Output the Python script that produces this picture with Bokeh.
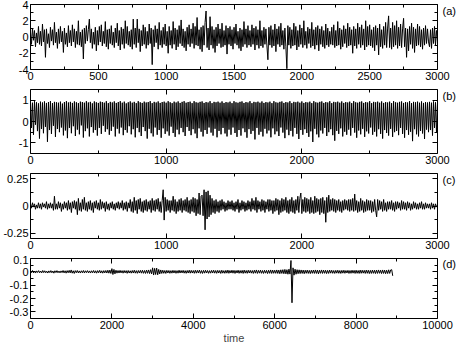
import numpy as np
from bokeh.plotting import figure
from bokeh.layouts import column
from bokeh.models import FixedTicker, LinearAxis, CustomJSTickFormatter, Range1d
from bokeh.embed import file_html
from bokeh.resources import INLINE

# ---- data ----
step_abc = 3000 / 408   # time step of samples in panels a-c
step_d = 25             # time step of samples in panel d

series_a = [
    0.6, -0.9, 1.1, -0.4, 0.8, -1.2, 0.5, -0.7, 1.3, -0.9, 0.7, -1.1, 1.6, -0.6, 0.9, -2.5, 1.0, -0.8, 0.4, -1.3,
    1.2, -0.5, 0.9, -1.0, 1.8, -0.7, 0.6, -1.4, 1.0, -0.8, 1.3, -0.6, 0.7, -1.9, 1.1, -0.9, 0.5, -1.2, 1.4, -0.7,
    0.8, -1.1, 1.5, -0.6, 1.0, -1.3, 0.7, -0.9, 2.0, -1.0, 0.6, -1.2, 0.9, -2.7, 1.1, -0.8, 1.4, -0.5, 0.9, 2.2,
    -0.7, 1.0, -1.4, 0.6, -0.9, 1.2, -1.7, 0.8, -1.0, 1.3, -0.6, 1.5, -1.1, 0.7, -0.8, 1.9, -1.2, 0.9, -1.5, 1.0,
    -0.8, 1.4, -1.0, 0.6, -1.3, 1.1, -0.7, 1.7, -1.1, 0.8, -1.6, 1.2, -0.9, 1.0, -1.4, 2.0, -0.8, 1.3, -1.0, 0.7,
    -1.2, 0.9, -1.5, 2.2, -0.9, 1.1, -1.3, 2.2, -0.7, 1.0, -1.8, 0.8, -1.1, 1.5, -0.9, 1.2, -1.4, 0.7, -1.0, 1.6,
    -0.8, 1.1, -3.4, 0.9, -1.2, 1.4, -0.7, 1.0, -1.5, 1.8, -1.0, 0.8, -1.3, 1.2, -0.9, 1.6, -1.1, 0.7, -2.0, 1.3,
    -1.0, 0.8, -1.4, 1.9, -0.9, 1.1, -1.6, 0.9, -1.2, 1.4, -0.8, 2.1, -1.1, 1.0, -1.3, 0.7, -1.7, 1.2, -0.9, 1.5,
    -1.2, 1.0, -0.8, 1.7, -1.4, 1.3, -1.0, 2.4, -1.1, 0.9, -1.5, 1.2, -1.8, 1.4, -1.0, 1.8, 3.2, -1.3, 1.1, -1.6,
    2.5, -1.0, 1.3, -1.4, 0.9, -1.9, 1.2, -1.1, 1.6, -0.8, 1.0, -1.3, 1.7, -1.2, 0.8, -1.0, 1.4, -2.1, 1.1, -0.9,
    1.3, -1.1, 0.9, -1.5, 1.2, -0.8, 1.6, -1.0, 0.7, -1.4, 1.1, -1.7, 0.9, -1.2, 1.9, -0.9, 1.0, -1.3, 1.4, -1.0,
    0.8, -1.2, 1.5, -0.9, 1.1, -1.6, 1.3, -1.0, 0.9, -1.4, 2.0, -1.1, 0.8, -1.3, 1.2, -0.9, 1.0, -1.1, -2.8, 1.2,
    -1.0, 1.4, -1.3, 0.9, -1.1, 1.6, -1.8, 1.0, -0.9, 1.3, -1.2, 1.7, -1.0, 0.8, -1.5, 1.1, -1.2, -3.9, 1.4, -1.0,
    1.2, -1.4, 0.9, -1.1, 1.7, -1.0, 1.3, -1.6, 0.8, -1.2, 1.5, -0.9, 1.1, -1.3, 2.0, -1.0, 0.7, -1.4, 1.2, -0.8,
    1.0, -1.3, 1.8, -1.1, 0.9, -1.5, 1.2, -1.0, 1.4, -1.7, 1.0, -0.9, 1.3, -1.2, 0.8, -1.4, 1.6, -1.0, 1.1, -1.2,
    0.7, -0.9, 1.2, -1.0, 1.5, -1.3, 0.8, -1.1, 1.9, -1.0, 1.1, -1.5, 0.9, -1.2, 1.4, -0.8, 1.0, -1.3, 1.7, -1.1,
    1.2, -1.0, 0.9, -2.0, 1.3, -1.1, 1.0, -1.4, 1.7, -0.9, 1.2, -1.3, 1.5, -1.0, 1.0, -1.6, 2.0, -1.2, 1.3, -1.0,
    1.5, -1.1, 0.9, -1.3, 1.2, -1.7, 1.4, -1.0, 1.1, -2.2, 1.6, -1.2, 0.9, -1.4, 1.3, -1.0, 1.8, -1.3, 1.1, 2.6,
    -1.3, 1.1, -1.5, 1.8, -1.2, 1.4, -1.0, 2.0, -1.4, 1.2, -1.1, 1.6, -1.3, 1.0, 2.3, -1.2, 1.1, -2.5, 1.0, -1.7,
    1.3, -0.9, 1.7, -1.4, 1.2, -1.9, 1.0, -1.1, 1.6, -1.0, 1.3, -1.2, 0.9, -1.5, 1.1, -1.0, 1.4, -0.8, 1.0, -0.6,
    -1.2, 0.9, -1.4, 1.1, -0.8, 1.3, -1.0, 0.8, -0.5,
]

series_b = [
    0.92, -0.30, 0.88, -0.62, 0.95, -0.15, 0.90, -0.45, 0.85, -0.80, 0.93, -0.35, 0.89, -0.55, 0.94, -0.25, 0.87, -0.95, 0.91, -0.40,
    0.95, -0.58, 0.86, -0.20, 0.92, -0.72, 0.90, -0.35, 0.88, -0.50, 0.93, -0.28, 0.84, -0.65, 0.91, -0.42, 0.95, -0.78, 0.89, -0.30,
    0.92, -0.55, 0.87, -0.22, 0.94, -0.68, 0.90, -0.38, 0.86, -0.60, 0.93, -0.18, 0.91, -0.75, 0.88, -0.45, 0.95, -0.32, 0.89, -0.70,
    0.92, -0.26, 0.85, -0.52, 0.94, -0.40, 0.90, -0.66, 0.87, -0.30, 0.93, -0.58, 0.91, -0.20, 0.88, -0.48, 0.95, -0.36, 0.86, -0.62,
    0.92, -0.44, 0.89, -0.24, 0.94, -0.70, 0.87, -0.34, 0.91, -0.56, 0.95, -0.28, 0.88, -0.64, 0.93, -0.40, 0.85, -0.52, 0.90, -0.22,
    0.94, -0.60, 0.88, -0.36, 0.92, -0.74, 0.86, -0.30, 0.95, -0.50, 0.90, -0.68, 0.87, -0.26, 0.93, -0.45, 0.89, -0.80, 0.91, -0.34,
    0.95, -0.55, 0.86, -0.70, 0.92, -0.28, 0.89, -0.62, 0.94, -0.40, 0.87, -0.76, 0.91, -0.32, 0.93, -0.58, 0.88, -0.46, 0.95, -0.66,
    0.90, -0.24, 0.86, -0.54, 0.93, -0.72, 0.89, -0.38, 0.94, -0.60, 0.87, -0.30, 0.92, -0.50, 0.95, -0.68, 0.88, -0.26, 0.91, -0.44,
    0.93, -0.64, 0.86, -0.36, 0.95, -0.56, 0.90, -0.78, 0.88, -0.32, 0.92, -0.48, 0.94, -0.70, 0.87, -0.40, 0.91, -0.58, 0.89, -0.28,
    0.95, -0.52, 0.86, -0.66, 0.92, -0.34, 0.90, -0.74, 0.93, -0.44, 0.88, -0.60, 0.94, -0.30, 0.87, -0.56, 0.91, -0.70, 0.89, -0.38,
    0.93, -0.62, 0.86, -0.28, 0.95, -0.54, 0.90, -0.72, 0.88, -0.40, 0.92, -0.66, 0.94, -0.32, 0.87, -0.50, 0.91, -0.76, 0.89, -0.36,
    0.95, -0.58, 0.86, -0.44, 0.92, -0.84, 0.90, -0.30, 0.93, -0.62, 0.88, -0.48, 0.94, -0.70, 0.87, -0.34, 0.91, -0.56, 0.89, -0.42,
    0.93, -0.74, 0.86, -0.32, 0.95, -0.60, 0.90, -0.46, 0.88, -0.68, 0.92, -0.28, 0.94, -0.52, 0.87, -0.78, 0.91, -0.38, 0.89, -0.64,
    0.95, -0.44, 0.86, -0.70, 0.92, -0.30, 0.90, -0.58, 0.93, -0.82, 0.88, -0.40, 0.94, -0.62, 0.87, -0.36, 0.91, -0.54, 0.89, -0.72,
    0.93, -0.46, 0.86, -0.96, 0.95, -0.34, 0.90, -0.60, 0.88, -0.74, 0.92, -0.42, 0.94, -0.56, 0.87, -0.30, 0.91, -0.68, 0.89, -0.50,
    0.95, -0.36, 0.86, -0.64, 0.92, -0.90, 0.90, -0.44, 0.93, -0.58, 0.88, -0.32, 0.94, -0.70, 0.87, -0.48, 0.91, -0.62, 0.89, -0.38,
    0.93, -0.66, 0.86, -0.30, 0.95, -0.52, 0.90, -0.76, 0.88, -0.42, 0.92, -0.60, 0.94, -0.34, 0.87, -0.72, 0.91, -0.46, 0.89, -0.56,
    0.95, -0.28, 0.86, -0.62, 0.92, -0.48, 0.90, -0.70, 0.93, -0.36, 0.88, -0.58, 0.94, -0.80, 0.87, -0.40, 0.91, -0.54, 0.89, -0.66,
    0.93, -0.34, 0.86, -0.72, 0.95, -0.50, 0.90, -0.44, 0.88, -0.64, 0.92, -0.30, 0.94, -0.58, 0.87, -0.76, 0.91, -0.40, 0.89, -0.62,
    0.95, -0.48, 0.86, -0.92, 0.92, -0.36, 0.90, -0.60, 0.93, -0.70, 0.88, -0.44, 0.94, -0.56, 0.87, -0.82, 0.91, -0.38, 0.89, -0.50,
    0.92, -0.40, 0.88, -0.66, 0.94, -0.30, 0.90, -0.54, 0.86,
]

series_c = [
    0.02, -0.02, 0.03, -0.01, 0.02, -0.03, 0.01, -0.02, 0.03, -0.02, 0.02, -0.03, 0.03, -0.01, 0.02, -0.02, 0.04, -0.03, 0.02, -0.02,
    0.03, -0.02, 0.02, -0.04, 0.09, -0.03, 0.02, -0.03, 0.04, -0.02, 0.03, -0.05, 0.02, -0.03, 0.04, -0.02, 0.03, -0.04, 0.05, -0.03,
    0.03, -0.06, 0.04, -0.02, 0.05, -0.03, 0.04, -0.08, 0.07, -0.04, 0.03, -0.05, 0.06, -0.03, 0.08, -0.04, 0.03, -0.05, 0.04, -0.03,
    0.05, -0.04, 0.03, -0.06, 0.04, -0.02, 0.05, -0.03, 0.03, -0.04, 0.06, -0.03, 0.04, -0.02, 0.03, -0.05, 0.04, -0.03, 0.02, -0.04,
    0.03, -0.02, 0.04, -0.03, 0.02, -0.04, 0.03, -0.02, 0.04, -0.03, 0.03, -0.02, 0.05, -0.04, 0.03, -0.03, 0.04, -0.05, 0.03, -0.02,
    0.06, -0.05, 0.04, -0.06, 0.08, -0.04, 0.05, -0.07, 0.06, -0.03, 0.07, -0.05, 0.04, -0.06, 0.05, -0.04, 0.06, -0.05, 0.04, -0.03,
    0.05, -0.06, 0.07, -0.04, 0.05, -0.05, 0.06, -0.03, 0.07, -0.05, 0.04, -0.06, 0.05, 0.15, -0.13, 0.08, -0.05, 0.06, -0.04, 0.05,
    -0.06, 0.05, -0.04, 0.09, -0.05, 0.06, -0.07, 0.04, -0.05, 0.06, -0.04, 0.07, -0.06, 0.05, -0.04, 0.06, -0.05, 0.08, -0.06, 0.05,
    -0.07, 0.06, -0.05, 0.08, -0.06, 0.07, -0.09, 0.06, -0.07, 0.12, -0.08, 0.09, 0.10, -0.09, 0.15, -0.22, 0.13, -0.12, 0.14, -0.10,
    0.10, -0.08, 0.07, -0.06, 0.05, -0.07, 0.06, -0.05, 0.04, -0.06, 0.05, -0.04, 0.06, -0.03, 0.04, -0.05, 0.03, -0.04, 0.05, -0.03,
    0.04, -0.03, 0.05, -0.04, 0.03, -0.05, 0.04, -0.03, 0.06, -0.06, 0.03, -0.04, 0.05, -0.03, 0.04, -0.05, 0.03, -0.04, 0.05, -0.03,
    0.04, -0.05, 0.07, -0.03, 0.05, -0.04, 0.08, -0.06, 0.05, -0.03, 0.04, -0.05, 0.06, -0.04, 0.05, -0.06, 0.04, -0.03, 0.06, -0.05,
    0.06, -0.04, 0.05, -0.07, 0.05, -0.05, 0.07, -0.04, 0.06, -0.08, 0.05, -0.06, 0.07, -0.05, 0.06, -0.04, 0.08, -0.06, 0.05, -0.07,
    0.06, -0.05, 0.08, -0.06, 0.05, -0.07, 0.06, -0.04, 0.09, -0.06, 0.07, 0.12, -0.07, 0.06, -0.05, 0.08, -0.06, 0.07, -0.05, 0.06,
    -0.07, 0.08, -0.06, 0.05, -0.07, 0.09, -0.06, 0.07, -0.05, 0.06, -0.08, 0.07, -0.06, 0.08, -0.07, 0.05, -0.15, 0.08, -0.06, 0.10,
    -0.05, 0.06, -0.04, 0.07, -0.05, 0.06, -0.06, 0.05, -0.04, 0.06, -0.05, 0.04, -0.06, 0.05, -0.04, 0.06, -0.03, 0.05, -0.04, 0.06,
    -0.05, 0.06, -0.04, 0.07, -0.05, 0.11, -0.04, 0.05, -0.06, 0.04, -0.05, 0.07, -0.04, 0.05, -0.06, 0.04, -0.05, 0.06, -0.04, 0.05,
    -0.04, 0.05, -0.06, 0.04, -0.05, 0.06, -0.04, -0.10, 0.06, -0.04, 0.05, -0.03, 0.04, -0.05, 0.06, -0.04, 0.03, -0.05, 0.04, -0.03,
    0.04, -0.03, 0.05, -0.04, 0.03, -0.05, 0.04, -0.03, 0.04, -0.02, 0.03, -0.04, 0.05, -0.03, 0.04, -0.03, 0.03, -0.04, 0.04, -0.02,
    0.03, -0.04, 0.02, -0.03, 0.04, -0.02, 0.03, -0.03, 0.02, -0.03, 0.03, -0.02, 0.04, -0.03, 0.02, -0.03, 0.03, -0.02, 0.02, -0.02,
    0.02, -0.03, 0.03, -0.02, 0.02, -0.03, 0.02, -0.01, 0.01,
]

series_d = [
    0.008, -0.006, 0.010, -0.008, 0.006, -0.009, 0.007, -0.005, 0.009, -0.007, 0.006, -0.008, 0.010, -0.006, 0.008, -0.007, 0.005, -0.009, 0.007, -0.006,
    0.009, -0.007, 0.006, -0.010, 0.008, -0.006, 0.009, -0.007, 0.006, -0.008, 0.007, -0.006, 0.010, -0.008, 0.008, -0.010, 0.009, -0.007, 0.011, -0.008,
    0.014, -0.010, 0.008, -0.012, 0.009, -0.007, 0.010, -0.008, 0.007, -0.009, 0.008, -0.007, 0.010, -0.009, 0.008, -0.006, 0.009, -0.008, 0.007, -0.009,
    0.008, -0.007, 0.010, -0.009, 0.008, -0.010, 0.009, -0.007, 0.011, -0.009, 0.008, -0.010, 0.009, -0.008, 0.010, -0.009, 0.012, -0.010, 0.013, -0.012,
    0.024, -0.020, 0.018, -0.015, 0.012, -0.010, 0.010, -0.009, 0.011, -0.008, 0.009, -0.010, 0.010, -0.008, 0.009, -0.011, 0.010, -0.009, 0.008, -0.010,
    0.010, -0.009, 0.012, -0.010, 0.009, -0.011, 0.010, -0.009, 0.011, -0.010, 0.012, -0.011, 0.010, -0.012, 0.013, -0.011, 0.014, -0.013, 0.016, -0.015,
    0.030, -0.024, 0.026, -0.020, 0.028, -0.022, 0.018, -0.016, 0.014, -0.012, 0.012, -0.011, 0.010, -0.012, 0.011, -0.009, 0.010, -0.011, 0.009, -0.010,
    0.011, -0.009, 0.010, -0.011, 0.009, -0.010, 0.012, -0.009, 0.010, -0.008, 0.011, -0.010, 0.009, -0.011, 0.010, -0.009, 0.012, -0.010, 0.011, -0.009,
    0.010, -0.011, 0.012, -0.010, 0.011, -0.009, 0.013, -0.011, 0.010, -0.012, 0.011, -0.010, 0.012, -0.009, 0.010, -0.011, 0.009, -0.010, 0.011, -0.009,
    0.012, -0.010, 0.010, -0.011, 0.011, -0.009, 0.010, -0.012, 0.012, -0.010, 0.009, -0.011, 0.011, -0.010, 0.013, -0.011, 0.010, -0.009, 0.012, -0.010,
    0.011, -0.012, 0.010, -0.009, 0.012, -0.011, 0.010, -0.010, 0.011, -0.012, 0.013, -0.010, 0.010, -0.011, 0.012, -0.009, 0.011, -0.010, 0.010, -0.012,
    0.012, -0.010, 0.014, -0.012, 0.011, -0.010, 0.013, -0.011, 0.010, -0.012, 0.012, -0.010, 0.011, -0.013, 0.012, -0.011, 0.014, -0.012, 0.013, -0.011,
    0.012, -0.011, 0.014, -0.012, 0.013, -0.014, 0.015, -0.012, 0.016, -0.014, 0.018, -0.015, 0.016, -0.018, 0.020, -0.017, 0.085, -0.232, 0.030, -0.025,
    0.020, -0.018, 0.016, -0.014, 0.015, -0.013, 0.014, -0.012, 0.013, -0.014, 0.012, -0.011, 0.013, -0.012, 0.011, -0.013, 0.012, -0.011, 0.013, -0.012,
    0.014, -0.012, 0.013, -0.015, 0.012, -0.011, 0.014, -0.012, 0.013, -0.011, 0.012, -0.013, 0.011, -0.012, 0.013, -0.010, 0.012, -0.011, 0.010, -0.012,
    0.011, -0.010, 0.012, -0.011, 0.010, -0.012, 0.011, -0.010, 0.012, -0.011, 0.010, -0.009, 0.011, -0.012, 0.010, -0.011, 0.012, -0.010, 0.011, -0.012,
    0.012, -0.011, 0.010, -0.012, 0.013, -0.011, 0.012, -0.010, 0.011, -0.012, 0.013, -0.011, 0.012, -0.013, 0.011, -0.012, 0.013, -0.011, 0.012, -0.013,
    0.013, -0.012, 0.014, -0.011, 0.012, -0.013, 0.014, -0.012, 0.013, -0.014, 0.012, -0.013, 0.015, -0.012, 0.014, 0.016, -0.030,
]

panel_labels = ["(a)", "(b)", "(c)", "(d)"]
x_label_d = "time"

x_range_abc = (0, 3000)
x_range_d = (0, 10000)
y_range_a = (-4, 4)
y_range_b = (-1.5, 1.5)
y_range_c = (-0.3, 0.3)
y_range_d = (-0.35, 0.1)

x_ticks_a = [0, 500, 1000, 1500, 2000, 2500, 3000]
x_minor_a = [250, 750, 1250, 1750, 2250, 2750]
x_ticks_bc = [0, 1000, 2000, 3000]
x_minor_bc = [500, 1500, 2500]
x_ticks_d = [0, 2000, 4000, 6000, 8000, 10000]
x_minor_d = [1000, 3000, 5000, 7000, 9000]
y_ticks_a = [-4, -2, 0, 2, 4]
y_minor_a = [-3, -1, 1, 3]
y_ticks_b = [-1, 0, 1]
y_minor_b = [-0.5, 0.5]
y_ticks_c = [-0.25, 0, 0.25]
y_minor_c = [-0.125, 0.125]
y_ticks_d = [-0.3, -0.2, -0.1, 0, 0.1]
y_minor_d = [-0.25, -0.15, -0.05, 0.05]

FONT = "Liberation Sans"
FS = "11px"
W = 459


def style_axis(ax, ticks, minor, show_labels):
    ax.ticker = FixedTicker(ticks=ticks, minor_ticks=minor)
    ax.axis_line_color = None
    ax.major_tick_in = 5
    ax.major_tick_out = 0
    ax.minor_tick_in = 3
    ax.minor_tick_out = 0
    ax.major_tick_line_color = "black"
    ax.minor_tick_line_color = "black"
    ax.major_label_text_font = FONT
    ax.major_label_text_color = "black"
    ax.major_label_text_font_size = FS
    if show_labels:
        ax.formatter = CustomJSTickFormatter(code="return String(tick)")
        ax.major_label_standoff = 2
    else:
        ax.formatter = CustomJSTickFormatter(code="return ''")
        ax.major_label_standoff = 0


def make_panel(vals, step, xr, yr, xt, xm, yt, ym, label, height, top, bottom, xlabel=None):
    p = figure(width=W, height=height, x_range=Range1d(*xr), y_range=Range1d(*yr),
               output_backend="svg", toolbar_location=None,
               min_border_left=28, min_border_right=22,
               min_border_top=top, min_border_bottom=bottom)
    p.xgrid.visible = False
    p.ygrid.visible = False
    p.outline_line_color = "black"
    p.outline_line_alpha = 1.0
    p.outline_line_width = 1
    t = np.arange(len(vals)) * step
    p.line(t, vals, line_color="black", line_width=1)
    bottom_ax = p.xaxis[0]
    left_ax = p.yaxis[0]
    style_axis(bottom_ax, xt, xm, True)
    style_axis(left_ax, yt, ym, True)
    top_ax = LinearAxis()
    style_axis(top_ax, xt, xm, False)
    p.add_layout(top_ax, "above")
    right_ax = LinearAxis()
    style_axis(right_ax, yt, ym, False)
    p.add_layout(right_ax, "right")
    # panel tag "(a)".. drawn as the single label of an extra right-hand axis,
    # placed about 6 px below the top of the frame
    frame_h = height - top - bottom
    tag_y = yr[1] - (yr[1] - yr[0]) * 6.0 / frame_h
    tag_ax = LinearAxis(ticker=FixedTicker(ticks=[tag_y], minor_ticks=[]),
                        formatter=CustomJSTickFormatter(args=dict(tag=label), code="return tag"))
    tag_ax.axis_line_color = None
    tag_ax.major_tick_line_color = None
    tag_ax.minor_tick_line_color = None
    tag_ax.major_tick_in = 0
    tag_ax.major_tick_out = 0
    tag_ax.minor_tick_in = 0
    tag_ax.minor_tick_out = 0
    tag_ax.major_label_standoff = 5
    tag_ax.major_label_text_font = FONT
    tag_ax.major_label_text_font_size = FS
    tag_ax.major_label_text_color = "black"
    p.add_layout(tag_ax, "right")
    if xlabel:
        bottom_ax.axis_label = xlabel
        bottom_ax.axis_label_text_font = FONT
        bottom_ax.axis_label_text_font_size = FS
        bottom_ax.axis_label_text_font_style = "normal"
        bottom_ax.axis_label_standoff = 0
    return p


pa = make_panel(series_a, step_abc, x_range_abc, y_range_a, x_ticks_a, x_minor_a,
                y_ticks_a, y_minor_a, panel_labels[0], 86, 4, 17)
pb = make_panel(series_b, step_abc, x_range_abc, y_range_b, x_ticks_bc, x_minor_bc,
                y_ticks_b, y_minor_b, panel_labels[1], 85, 3, 18)
pc = make_panel(series_c, step_abc, x_range_abc, y_range_c, x_ticks_bc, x_minor_bc,
                y_ticks_c, y_minor_c, panel_labels[2], 84, 2, 17)
pd_ = make_panel(series_d, step_d, x_range_d, y_range_d, x_ticks_d, x_minor_d,
                 y_ticks_d, y_minor_d, panel_labels[3], 91, 3, 24, xlabel=x_label_d)

layout = column(pa, pb, pc, pd_, spacing=0)
open("out.html", "w").write(file_html(layout, INLINE))
